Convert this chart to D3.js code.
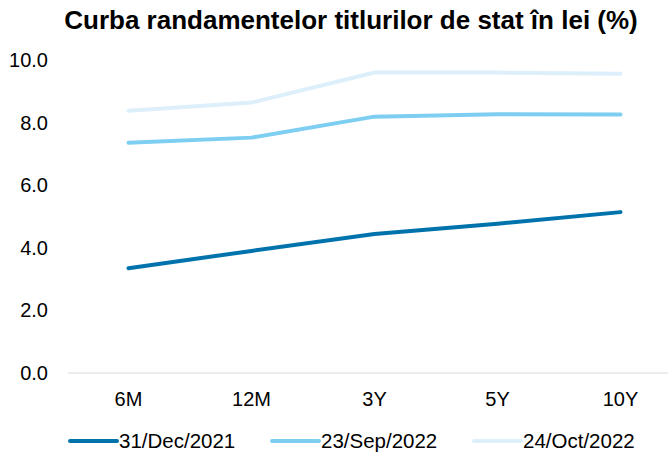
<!DOCTYPE html>
<html>
<head>
<meta charset="utf-8">
<script src="https://cdn.jsdelivr.net/npm/d3@7"></script>
<style>
  body { margin: 0; background: #fff; }
  svg { display: block; font-family: "Liberation Sans", Arial, sans-serif; }
</style>
</head>
<body>
<script>
// DATA
const categories = ['6M', '12M', '3Y', '5Y', '10Y'];
const seriesNames = ['31/Dec/2021', '23/Sep/2022', '24/Oct/2022'];
const dec2021 = [3.35, 3.9, 4.44, 4.77, 5.14];
const sep2022 = [7.36, 7.52, 8.19, 8.27, 8.26];
const oct2022 = [8.38, 8.64, 9.6, 9.6, 9.56];
const yTicks = [0, 2, 4, 6, 8, 10];
const colors = ['#0073AC', '#7ECEF2', '#DDEFFB'];

const WIDTH = 672;
const HEIGHT = 457;

const svg = d3.select('body').append('svg')
  .attr('width', WIDTH)
  .attr('height', HEIGHT);

// TITLE
svg.append('text')
  .attr('x', 351)
  .attr('y', 29)
  .attr('text-anchor', 'middle')
  .attr('font-size', 26)
  .attr('font-weight', 'bold')
  .attr('fill', '#000')
  .text('Curba randamentelor titlurilor de stat în lei (%)');

// SCALES
const x = d3.scaleBand().domain(categories).range([67, 682]);
const y = d3.scaleLinear().domain([0, 10]).range([373, 60]);

// Y AXIS LABELS
svg.selectAll('.ytick')
  .data(yTicks)
  .enter()
  .append('text')
  .attr('x', 48)
  .attr('y', d => y(d) + 7)
  .attr('text-anchor', 'end')
  .attr('font-size', 20)
  .attr('fill', '#000')
  .text(d => d.toFixed(1));

// BASELINE
svg.append('line')
  .attr('x1', 68).attr('x2', 668)
  .attr('y1', y(0)).attr('y2', y(0))
  .attr('stroke', '#d9d9d9')
  .attr('stroke-width', 1);

// X AXIS LABELS
svg.selectAll('.xtick')
  .data(categories)
  .enter()
  .append('text')
  .attr('x', d => x(d) + x.bandwidth() / 2)
  .attr('y', 406)
  .attr('text-anchor', 'middle')
  .attr('font-size', 20)
  .attr('fill', '#000')
  .text(d => d);

// LINES (draw lightest first so the dark one sits on top)
const allSeries = [dec2021, sep2022, oct2022];
const line = d3.line()
  .x((d, i) => x(categories[i]) + x.bandwidth() / 2)
  .y(d => y(d));

[2, 1, 0].forEach(k => {
  svg.append('path')
    .datum(allSeries[k])
    .attr('d', line)
    .attr('fill', 'none')
    .attr('stroke', colors[k])
    .attr('stroke-width', 4)
    .attr('stroke-linecap', 'round')
    .attr('stroke-linejoin', 'round');
});

// LEGEND
const legendX = [70, 272, 474];
seriesNames.forEach((name, k) => {
  svg.append('line')
    .attr('x1', legendX[k]).attr('x2', legendX[k] + 47)
    .attr('y1', 441).attr('y2', 441)
    .attr('stroke', colors[k])
    .attr('stroke-width', 4)
    .attr('stroke-linecap', 'round');
  svg.append('text')
    .attr('x', legendX[k] + 49)
    .attr('y', 448)
    .attr('font-size', 20.5)
    .attr('fill', '#000')
    .text(name);
});
</script>
</body>
</html>
